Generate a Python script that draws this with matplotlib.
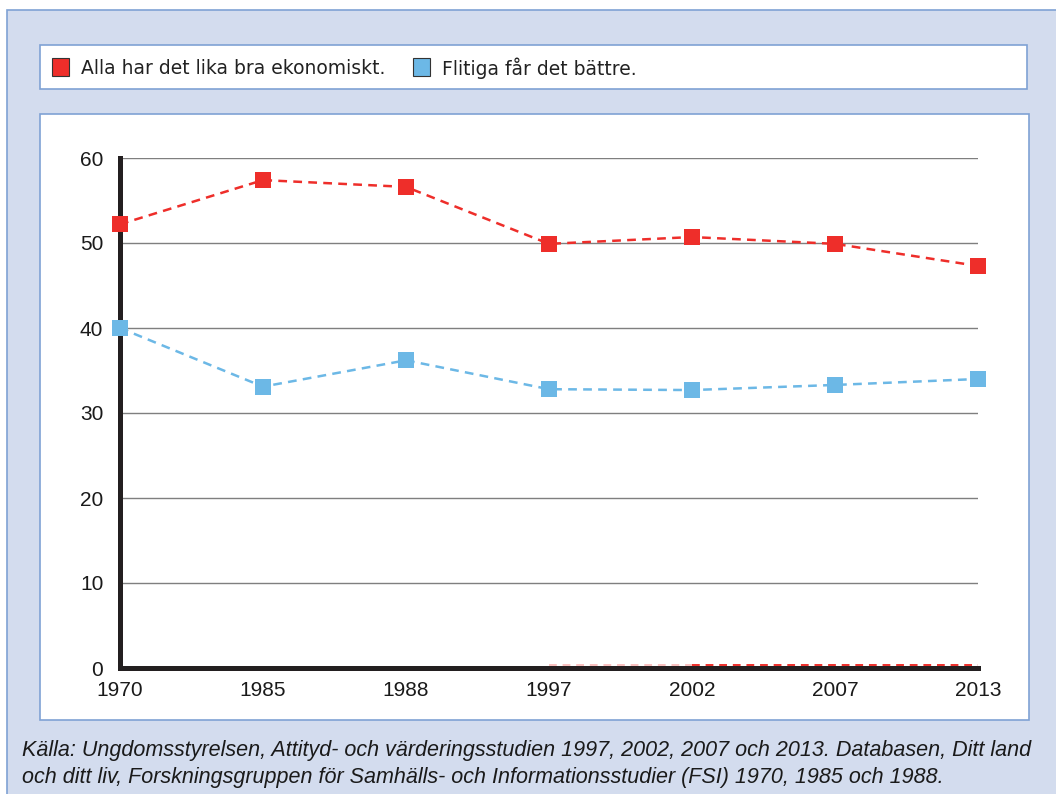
import matplotlib.pyplot as plt
from matplotlib.patches import Rectangle
import numpy as np

years = ["1970", "1985", "1988", "1997", "2002", "2007", "2013"]
alla_lika = [52.2, 57.4, 56.6, 49.9, 50.7, 49.9, 47.3]
flitiga = [40.0, 33.1, 36.2, 32.8, 32.7, 33.3, 34.0]
# faint red dashed trace that sits just on top of the x axis
noll_svag = [np.nan, np.nan, np.nan, 0.3, 0.3, np.nan, np.nan]
noll_linje = [np.nan, np.nan, np.nan, np.nan, 0.3, 0.3, 0.3]

legend_labels = ["Alla har det lika bra ekonomiskt.", "Flitiga får det bättre."]
source_text = ("Källa: Ungdomsstyrelsen, Attityd- och värderingsstudien 1997, 2002, 2007 och 2013. Databasen, Ditt land\n"
               "och ditt liv, Forskningsgruppen för Samhälls- och Informationsstudier (FSI) 1970, 1985 och 1988.")

red = "#ee2e2a"
blue = "#6cb8e6"
panel_bg = "#d3dcee"
border = "#7fa2d4"

W, H = 1056, 794
fig = plt.figure(figsize=(W / 100, H / 100), dpi=100)
fig.patch.set_facecolor("white")


def px_rect(x0, y0, x1, y1, **kw):
    # rectangle in pixel coords (top-left origin)
    return Rectangle((x0 / W, 1 - y1 / H), (x1 - x0) / W, (y1 - y0) / H,
                     transform=fig.transFigure, **kw)


# outer light blue panel
fig.patches.append(px_rect(7, 10, 1060, 800, facecolor=panel_bg, edgecolor=border, lw=1.2, zorder=-3))
# legend box
fig.patches.append(px_rect(40, 45, 1027, 89, facecolor="white", edgecolor=border, lw=1.2, zorder=-2))
# plot box
fig.patches.append(px_rect(40, 114, 1029, 720, facecolor="white", edgecolor=border, lw=1.2, zorder=-2))

# legend entries
for i, (lab, col) in enumerate(zip(legend_labels, [red, blue])):
    x0 = [52, 413][i]
    fig.patches.append(px_rect(x0, 58, x0 + 17, 76, facecolor=col, edgecolor="#333333", lw=0.8, zorder=-1))
    fig.text((x0 + 29) / W, 1 - 68 / H, lab, fontsize=13.5, family="DejaVu Sans",
             color="#222222", va="center", ha="left")

ax = fig.add_axes([120 / W, 1 - 668 / H, 858 / W, 510 / H])
ax.set_facecolor("none")
x = np.arange(len(years))

ax.plot(x, noll_svag, color=red, alpha=0.3, ls=(0, (4, 3)), lw=1.4, zorder=1, clip_on=False)
ax.plot(x, noll_linje, color=red, ls=(0, (4, 3)), lw=1.4, zorder=1, clip_on=False)
ax.plot(x, alla_lika, color=red, ls=(0, (3.5, 2.5)), lw=1.8, marker="s", markersize=11.5,
        markeredgewidth=0, clip_on=False, zorder=5)
ax.plot(x, flitiga, color=blue, ls=(0, (3.5, 2.5)), lw=1.8, marker="s", markersize=11.5,
        markeredgewidth=0, clip_on=False, zorder=5)

ax.set_xlim(0, 6)
ax.set_ylim(0, 60)
ax.set_yticks(range(0, 61, 10))
ax.set_xticks(x)
ax.set_xticklabels(years)
ax.yaxis.grid(True, color="#7f7f7f", lw=1.0)
ax.set_axisbelow(True)
for s in ["top", "right"]:
    ax.spines[s].set_visible(False)
for s in ["left", "bottom"]:
    ax.spines[s].set_linewidth(3.6)
    ax.spines[s].set_color("#231f20")
    ax.spines[s].set_zorder(3)
ax.tick_params(length=0, labelsize=15, colors="#1a1a1a")
ax.tick_params(axis="y", pad=12)
ax.tick_params(axis="x", pad=9)
for t in ax.get_xticklabels() + ax.get_yticklabels():
    t.set_family("Liberation Sans")

fig.text(22 / W, 1 - 764 / H, source_text, fontsize=15.5, family="Liberation Sans",
         style="italic", color="#1a1a1a", va="center", ha="left", linespacing=1.4)

fig.savefig("out.png", dpi=100)
